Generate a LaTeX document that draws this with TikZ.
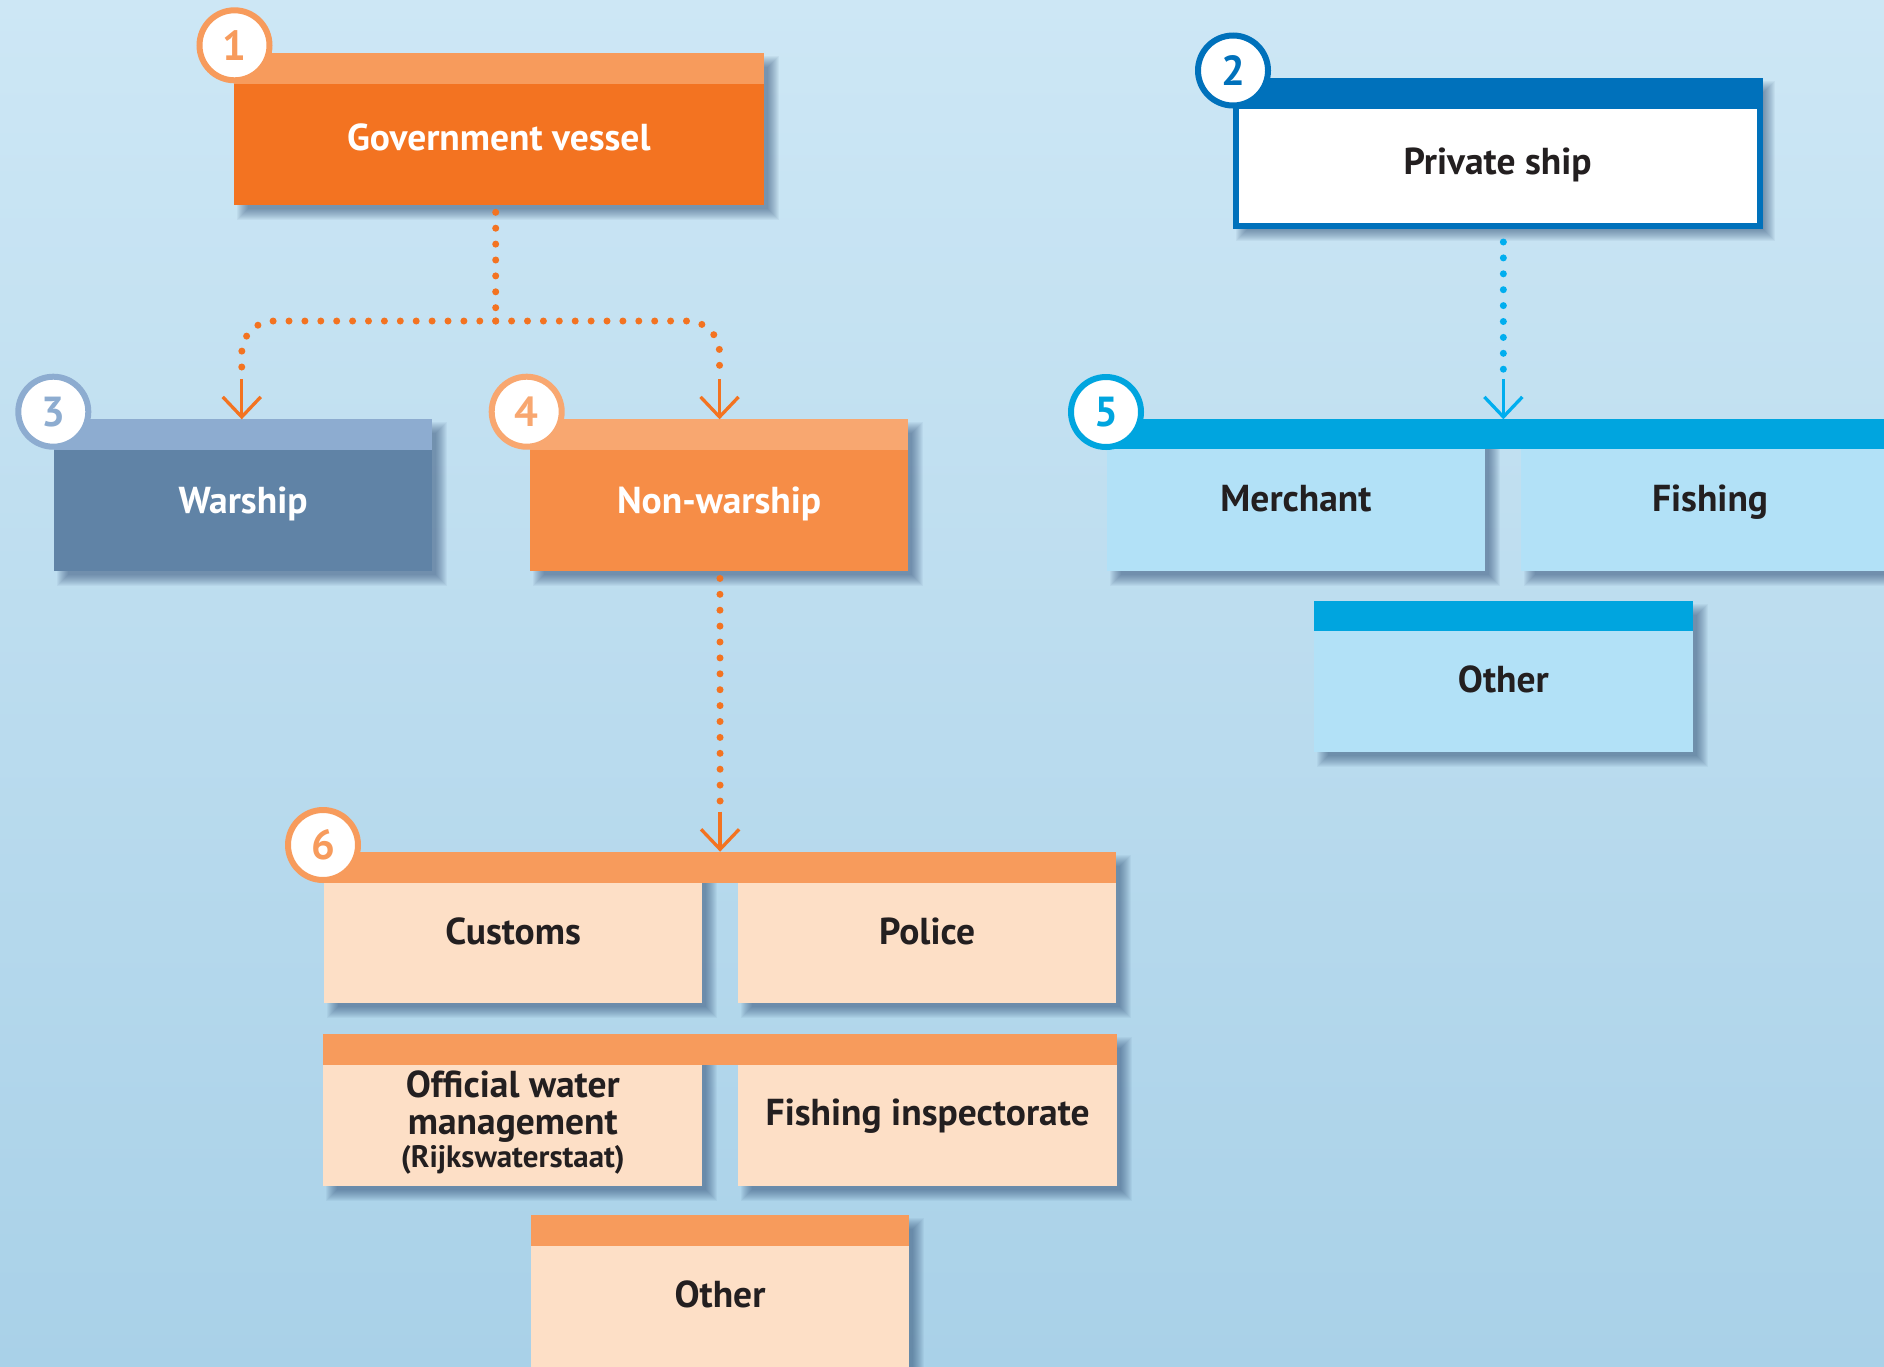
\documentclass[tikz,border=0pt]{standalone}
\usepackage{fontspec}
\setmainfont{PT Sans}
\usetikzlibrary{arrows.meta,calc}

% palette
\definecolor{bgtop}{RGB}{205,231,245}
\definecolor{bgbot}{RGB}{169,209,232}
\definecolor{gvmain}{RGB}{243,115,33}
\definecolor{gvhead}{RGB}{247,155,92}
\definecolor{pvblue}{RGB}{0,113,187}
\definecolor{wsmain}{RGB}{96,131,166}
\definecolor{wshead}{RGB}{141,172,208}
\definecolor{nwmain}{RGB}{246,141,71}
\definecolor{nwhead}{RGB}{248,167,112}
\definecolor{cybar}{RGB}{0,165,223}
\definecolor{cyfill}{RGB}{178,225,247}
\definecolor{ogbar}{RGB}{247,155,92}
\definecolor{ogfill}{RGB}{253,223,198}
\definecolor{ink}{RGB}{35,31,32}
\definecolor{dotorange}{RGB}{243,115,33}
\definecolor{dotblue}{RGB}{0,174,239}
\definecolor{shadecol}{RGB}{35,65,105}

\newcommand\lblfont{\bfseries\fontsize{37.5}{37}\selectfont}
\newcommand\numfont{\bfseries\fontsize{42}{42}\selectfont}

\pgfdeclarelayer{backdrop}
\pgfdeclarelayer{shade}
\pgfsetlayers{backdrop,shade,main}

% soft drop shadow behind a rectangle given by two corners
\newcommand\dropshade[2]{%
  \foreach \e in {0,...,11}{%
    \fill[shadecol, fill opacity=0.05]
      ($(#1)+(3+\e,3+\e)$) rectangle ($(#2)+(15-\e,15-\e)$);
  }}

\tikzset{
  box/.style={rectangle, draw=none, inner sep=0pt, outer sep=0pt, anchor=north west},
  head/.style={box, minimum height=31pt},
  body/.style={box, minimum height=121pt},
  lbl/.style={font=\lblfont, text=ink, inner sep=0pt, anchor=base},
  badge/.style={circle, fill=white, draw=#1, text=#1, line width=6pt,
    minimum size=70pt, inner sep=0pt, font=\numfont},
  dotline/.style={line width=7pt, line cap=round, dash pattern=on 0pt off 15.9pt},
  tipline/.style={line width=3.3pt, -{Straight Barb[length=20pt,width=38pt]}},
}

\begin{document}
\begin{tikzpicture}[x=1pt, y=-1pt]
\useasboundingbox (0,0) rectangle (1884,1366);
\begin{pgfonlayer}{backdrop}
  \shade[top color=bgtop, bottom color=bgbot] (0,0) rectangle (1884,1366);
\end{pgfonlayer}

% ---- government vessel
\node[head, fill=gvhead, minimum width=530.4pt] (gh) at (233.6,52.7) {};
\node[body, fill=gvmain, minimum width=530.4pt, minimum height=121.3pt] (gov) at (233.6,84) {};
\node[lbl, text=white] (gov-t) at ([yshift=-6.2pt]gov.center) {Government vessel};

% ---- private ship
\node[box, fill=white, draw=pvblue, line width=6pt, minimum width=523.7pt, minimum height=120pt]
  (priv) at (1235.8,106) {};
\node[head, fill=pvblue, minimum width=529.7pt, minimum height=30.7pt] (ph) at (1232.8,78.3) {};
\node[lbl] (priv-t) at ([yshift=-8.3pt]priv.center) {Private ship};

% ---- warship / non-warship
\node[head, fill=wshead, minimum width=378.3pt, minimum height=30.7pt] (wh) at (54,419.3) {};
\node[body, fill=wsmain, minimum width=378.3pt, minimum height=120.7pt] (ws) at (54,450) {};
\node[lbl, text=white] (ws-t) at ([yshift=-3pt]ws.center) {Warship};

\node[head, fill=nwhead, minimum width=378.3pt, minimum height=30.7pt] (nh) at (530,419.3) {};
\node[body, fill=nwmain, minimum width=378.3pt, minimum height=120.7pt] (nw) at (530,450) {};
\node[lbl, text=white] (nw-t) at ([yshift=-3pt]nw.center) {Non-warship};

% ---- private ship categories
\node[head, fill=cybar, minimum width=792pt, minimum height=30pt] (bar5) at (1107.3,419.3) {};
\node[body, fill=cyfill, minimum width=377.3pt, minimum height=121.4pt] (merch) at (1107.3,449.3) {};
\node[body, fill=cyfill, minimum width=377.3pt, minimum height=121.4pt] (fish) at (1521.4,449.3) {};
\node[lbl] (merch-t) at ([yshift=-1.7pt]merch.center) {Merchant};
\node[lbl] (fish-t) at ([yshift=-1.7pt]fish.center) {Fishing};

\node[head, fill=cybar, minimum width=378.7pt, minimum height=30pt] (o5h) at (1314,601) {};
\node[body, fill=cyfill, minimum width=378.7pt, minimum height=121.3pt] (o5) at (1314,631) {};
\node[lbl] (o5-t) at ([yshift=-0.5pt]o5.center) {Other};

% ---- non-warship categories
\node[head, fill=ogbar, minimum width=792.6pt] (bar6) at (323.8,851.7) {};
\node[body, fill=ogfill, minimum width=378.5pt, minimum height=120.6pt] (cust) at (323.8,882.7) {};
\node[body, fill=ogfill, minimum width=378.4pt, minimum height=120.6pt] (pol) at (738,882.7) {};
\node[lbl] (cust-t) at ([yshift=-1pt]cust.center) {Customs};
\node[lbl] (pol-t) at ([yshift=-1pt]pol.center) {Police};

\node[head, fill=ogbar, minimum width=793.8pt] (bar6b) at (323.4,1034) {};
\node[body, fill=ogfill, minimum width=378.8pt, minimum height=120.7pt] (owm) at (323.4,1065) {};
\node[body, fill=ogfill, minimum width=378.8pt, minimum height=120.7pt] (finsp) at (738.3,1065) {};
\node[lbl, align=center, anchor=center] (owm-t) at ([yshift=3pt]owm.center)
  {Official water\\management\\[-4pt]{\fontsize{31}{30}\selectfont(Rijkswaterstaat)}};
\node[lbl] (finsp-t) at (finsp.center) {Fishing inspectorate};

\node[head, fill=ogbar, minimum width=378pt, minimum height=30.7pt] (o6h) at (531,1215) {};
\node[body, fill=ogfill, minimum width=378pt, minimum height=121pt] (o6) at (531,1245.7) {};
\node[lbl] (o6-t) at ([yshift=-1pt]o6.center) {Other};

% ---- shadows
\begin{pgfonlayer}{shade}
  \dropshade{gh.north west}{gov.south east}
  \dropshade{ph.north west}{priv.south east}
  \dropshade{wh.north west}{ws.south east}
  \dropshade{nh.north west}{nw.south east}
  \dropshade{bar5.north west}{merch.south east}
  \dropshade{bar5.north -| fish.west}{fish.south east}
  \dropshade{o5h.north west}{o5.south east}
  \dropshade{bar6.north west}{cust.south east}
  \dropshade{bar6.north -| pol.west}{pol.south east}
  \dropshade{bar6b.north west}{owm.south east}
  \dropshade{bar6b.north -| finsp.west}{finsp.south east}
  \dropshade{o6h.north west}{o6.south east}
\end{pgfonlayer}

% ---- number badges
\node[badge=gvhead] (n1) at ($(gh.north west)+(0.9,-7.4)$) {1};
\node[badge=pvblue] (n2) at ($(ph.north west)+(0.2,-7.8)$) {2};
\node[badge=wshead] (n3) at ($(wh.north west)+(-0.7,-7.6)$) {3};
\node[badge=nwhead] (n4) at ($(nh.north west)+(-3.3,-7.6)$) {4};
\node[badge=cybar] (n5) at ($(bar5.north west)+(-1.3,-7.3)$) {5};
\node[badge=ogbar] (n6) at ($(bar6.north west)+(-0.8,-6.7)$) {6};

% ---- connectors
\coordinate (split) at ($(gov.south)+(-3.1,115.7)$);
\draw[dotline, dotorange] ($(gov.south)+(-3.1,7)$) -- (split);
\draw[dotline, dotorange, rounded corners=32pt] (split) -| ($(wh.north)+(-1.4,-50)$);
\draw[dotline, dotorange, rounded corners=32pt] (split) -| ($(nh.north)+(0.4,-50)$);
\draw[tipline, dotorange] ($(wh.north)+(-1.4,-40)$) -- ($(wh.north)+(-1.4,0)$);
\draw[tipline, dotorange] ($(nh.north)+(0.4,-40)$) -- ($(nh.north)+(0.4,0)$);

\draw[dotline, dotorange] ($(nw.south)+(0.8,7.7)$) -- ($(bar6.north)+(0,-50)$);
\draw[tipline, dotorange] ($(bar6.north)+(0,-40)$) -- (bar6.north);

\coordinate (t5) at (bar5.north -| o5h.north);
\draw[dotline, dotblue] ($(priv.south -| t5)+(0,16)$) -- ($(t5)+(0,-49)$);
\draw[tipline, dotblue] ($(t5)+(0,-40)$) -- (t5);
\end{tikzpicture}
\end{document}
